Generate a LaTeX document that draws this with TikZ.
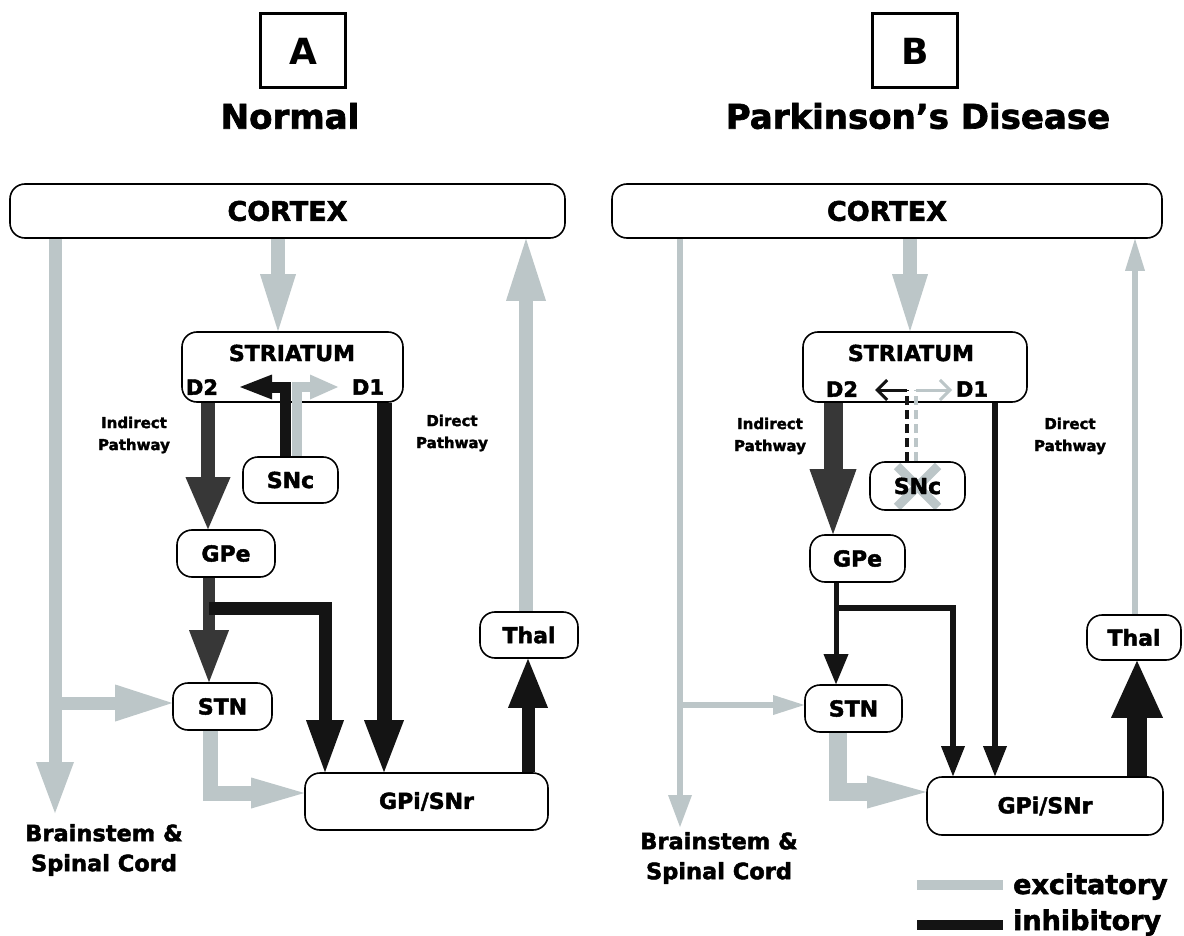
\documentclass[tikz,border=0pt]{standalone}
\usepackage{fontspec}
\setmainfont{DejaVu Sans}
\newfontfamily\heavy{DejaVu Sans}[BoldFeatures={FakeBold=2}]
\usetikzlibrary{arrows.meta}
\definecolor{exc}{RGB}{188,198,200}
\definecolor{inh}{RGB}{20,20,20}
\definecolor{inhd}{RGB}{55,55,55}
\begin{document}
\begin{tikzpicture}[x=1pt,y=-1pt,
  box/.style={draw=black, line width=1.6pt, rounded corners=15pt, inner sep=0pt, fill=white, font=\heavy\bfseries\fontsize{22}{26}\selectfont},
  lab/.style={font=\heavy\bfseries\fontsize{22}{26}\selectfont, inner sep=0pt},
  dlab/.style={font=\heavy\bfseries\fontsize{21}{24}\selectfont, inner sep=0pt},
  small/.style={font=\heavy\bfseries\fontsize{15}{22}\selectfont, align=center, inner sep=0pt},
  bsc/.style={font=\heavy\bfseries\fontsize{22.5}{30}\selectfont, align=center, inner sep=0pt},
  ttl/.style={font=\heavy\bfseries\fontsize{34}{38}\selectfont, inner sep=0pt},
  letterbox/.style={draw=black, line width=3pt, minimum width=85pt, minimum height=74pt, font=\bfseries\fontsize{36}{40}\selectfont},
  leg/.style={font=\heavy\bfseries\fontsize{27}{30}\selectfont, anchor=base west, inner sep=0pt},
  fat/.style args={#1/#2/#3}{line width=#1pt, line cap=butt, line join=miter, -{Triangle[width=#2pt,length=#3pt,line width=0pt]}},
  barb/.style={line width=3pt, -{Straight Barb[length=10pt,width=20pt]}},
  dsh/.style={line width=4pt, dash pattern=on 9pt off 5pt},
]
\useasboundingbox (0,0) rectangle (1184,936);
\fill[white] (0,0) rectangle (1184,936);

% ---------- titles ----------
\node[letterbox] (tA) at (303,51) {A};
\node[ttl] (hA) at (290,116) {Normal};
\node[letterbox] (tB) at (915,51) {B};
\node[ttl] (hB) at (918,116) {Parkinson’s Disease};

% ---------- X behind SNc (B) ----------
\draw[exc, line width=9pt] (897,466) -- (938,507);
\draw[exc, line width=9pt] (938,466) -- (897,507);

% ---------- panel A nodes ----------
\node[box, minimum width=555pt, minimum height=54pt, font=\heavy\bfseries\fontsize{27}{30}\selectfont] (cortexA) at (287.5,211) {CORTEX};
\node[box, minimum width=221pt, minimum height=70pt] (striA) at (292.5,367) {};
\node[lab] (striAt) at (292,353) {STRIATUM};
\node[dlab] (d2A) at (202,387) {D2};
\node[dlab] (d1A) at (368,387) {D1};
\node[box, minimum width=95pt, minimum height=46pt] (snA) at (290.5,480) {SNc};
\node[box, minimum width=98pt, minimum height=47pt] (gpeA) at (226,553.5) {GPe};
\node[box, minimum width=99pt, minimum height=47pt] (stnA) at (222.5,706.5) {STN};
\node[box, minimum width=243pt, minimum height=57pt] (gpiA) at (426.5,801.5) {GPi/SNr};
\node[box, minimum width=98pt, minimum height=46pt] (thalA) at (529,635) {Thal};
\node[small] (indA) at (134,435) {Indirect\\Pathway};
\node[small] (dirA) at (452,433) {Direct\\Pathway};
\node[bsc] (bsA) at (104,850) {Brainstem \&\\Spinal Cord};

% ---------- panel B nodes ----------
\node[box, minimum width=550pt, minimum height=54pt, font=\heavy\bfseries\fontsize{27}{30}\selectfont] (cortexB) at (887,211) {CORTEX};
\node[box, minimum width=224pt, minimum height=70pt] (striB) at (915,367) {};
\node[lab] (striBt) at (911,353) {STRIATUM};
\node[dlab] (d2B) at (842,389) {D2};
\node[dlab] (d1B) at (972,389) {D1};
\node[box, fill=none, minimum width=95pt, minimum height=48pt] (snB) at (917.5,486) {SNc};
\node[box, minimum width=95pt, minimum height=47pt] (gpeB) at (857.5,558.5) {GPe};
\node[box, minimum width=97pt, minimum height=47pt] (stnB) at (853.5,708.5) {STN};
\node[box, minimum width=236pt, minimum height=58pt] (gpiB) at (1045,806) {GPi/SNr};
\node[box, minimum width=94pt, minimum height=45pt] (thalB) at (1134,637.5) {Thal};
\node[small] (indB) at (770,436) {Indirect\\Pathway};
\node[small] (dirB) at (1070,436) {Direct\\Pathway};
\node[bsc] (bsB) at (719,858) {Brainstem \&\\Spinal Cord};

% ---------- panel A connectors ----------
\coordinate (a1) at (55,813);
\coordinate (a2) at (55,703);
\coordinate (a3) at (278,0);
\coordinate (a4) at (285,387);
\coordinate (a5) at (240,387);
\coordinate (a6) at (297,387);
\coordinate (a7) at (338,387);
\coordinate (a8) at (208,0);
\coordinate (a9) at (384,0);
\coordinate (a10) at (209,0);
\coordinate (a11) at (209,608);
\coordinate (a12) at (325,0);
\coordinate (a13) at (210,793);
\coordinate (a14) at (528,0);
\coordinate (a15) at (526,0);

\draw[exc, fat=13/38/51] (cortexA.south -| a1) -- (a1);
\draw[exc, fat=13/37/57] (a2) -- (stnA.west |- a2);
\draw[exc, fat=14/36/57] (cortexA.south -| a3) -- (striA.north -| a3);
\draw[exc, fat=10/25/28] (snA.north -| a6) -- (a6) -- (a7);
\draw[inh, fat=11/25/32] (snA.north -| a4) -- (a4) -- (a5);
\draw[inhd, fat=14/45/52] (striA.south -| a8) -- (gpeA.north -| a8);
\draw[inh, fat=15/40/52] (striA.south -| a9) -- (gpiA.north -| a9);
\draw[inhd, fat=12/40/52] (gpeA.south -| a10) -- (stnA.north -| a10);
\draw[inh, fat=13/38/52] (a11) -| (gpiA.north -| a12);
\draw[exc, fat=15/31/53] (stnA.south -| a13) |- (gpiA.west |- a13);
\draw[inh, fat=13/40/49] (gpiA.north -| a14) -- (thalA.south -| a14);
\draw[exc, fat=14/40/62] (thalA.north -| a15) -- (cortexA.south -| a15);

% ---------- panel B connectors ----------
\coordinate (b1) at (680,827);
\coordinate (b2) at (680,705);
\coordinate (b3) at (910,0);
\coordinate (b4) at (907,390);
\coordinate (b5) at (875,390);
\coordinate (b6) at (916,390);
\coordinate (b7) at (952,390);
\coordinate (b8) at (833,0);
\coordinate (b9) at (995,0);
\coordinate (b10) at (836,0);
\coordinate (b11) at (836,608);
\coordinate (b12) at (953,0);
\coordinate (b13) at (838,792);
\coordinate (b14) at (1137,0);
\coordinate (b15) at (1135,0);

\draw[exc, fat=6/24/32] (cortexB.south -| b1) -- (b1);
\draw[exc, fat=6/20/31] (b2) -- (stnB.west |- b2);
\draw[exc, fat=14/36/57] (cortexB.south -| b3) -- (striB.north -| b3);
\draw[inh, dsh] (snB.north -| b4) -- (b4);
\draw[inh, barb] (b4) -- (b5);
\draw[exc, dsh] (snB.north -| b6) -- (b6);
\draw[exc, barb] (b6) -- (b7);
\draw[inhd, fat=19/47/65] (striB.south -| b8) -- (gpeB.north -| b8);
\draw[inh, fat=6/24/30] (striB.south -| b9) -- (gpiB.north -| b9);
\draw[inh, fat=5/25/30] (gpeB.south -| b10) -- (stnB.north -| b10);
\draw[inh, fat=6/24/30] (b11) -| (gpiB.north -| b12);
\draw[exc, fat=18/33/59] (stnB.south -| b13) |- (gpiB.west |- b13);
\draw[inh, fat=20/52/57] (gpiB.north -| b14) -- (thalB.south -| b14);
\draw[exc, fat=6/20/32] (thalB.north -| b15) -- (cortexB.south -| b15);

% ---------- legend ----------
\coordinate (l1) at (917,885);
\coordinate (l2) at (1003,885);
\coordinate (l3) at (917,925);
\coordinate (l4) at (1003,925);
\draw[exc, line width=10pt] (l1) -- (l2);
\draw[inh, line width=10pt] (l3) -- (l4);
\node[leg] (lexc) at (1013,894) {excitatory};
\node[leg] (linh) at (1013,930) {inhibitory};
\end{tikzpicture}
\end{document}
